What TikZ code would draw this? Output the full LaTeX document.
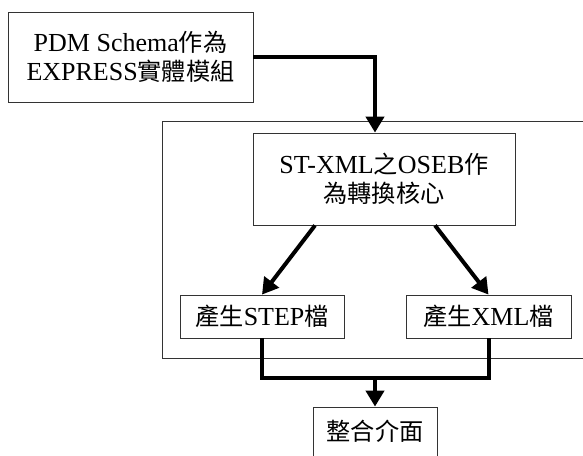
\documentclass[tikz,border=0pt]{standalone}
\usepackage{fontspec}
\setmainfont{Liberation Serif}
\newfontfamily\cjk[Scale=0.93]{Noto Sans CJK TC}
\newcommand{\zhtext}[1]{{\cjk #1}}
\usetikzlibrary{arrows.meta}

\begin{document}
\begin{tikzpicture}[x=1pt, y=-1pt,
	box/.style={draw=black!80, line width=0.8pt, align=center, inner sep=0pt,
		font=\fontsize{26}{29}\selectfont},
	flow/.style={line width=4pt, -{Triangle[length=16pt,width=18pt]}},
	mergeline/.style={line width=4pt}]
	\useasboundingbox (0,0) rectangle (583,455);
	\clip (0,0) rectangle (583,455);
	% outer frame round the converter
	\draw [black!80, line width=0.8pt] (162,121) rectangle (620,358);
	% boxes
	\node[box, minimum width=245, minimum height=90] (pdm) at (130.5,57) {PDM Schema\zhtext{作為}\\EXPRESS\zhtext{實體模組}};
	\node[box, minimum width=262, minimum height=92] (core) at (384,179) {ST-XML\zhtext{之}OSEB\zhtext{作}\\\zhtext{為轉換核心}};
	\node[box, minimum width=164, minimum height=43] (step) at (262,316.5) {\zhtext{產生}STEP\zhtext{檔}};
	\node[box, minimum width=165, minimum height=43] (xml) at (488.5,316.5) {\zhtext{產生}XML\zhtext{檔}};
	\node[box, minimum width=124, minimum height=49] (ui) at (375,431.5) {\zhtext{整合介面}};
	\coordinate (merge) at (375,378);
	% arrows
	\draw [flow] (pdm.east) -| ([xshift=-9pt]core.north);
	\draw [flow] ([xshift=-69pt]core.south) -- (step.north);
	\draw [flow] ([xshift=51pt]core.south) -- (xml.north);
	\draw [mergeline] (step.south) |- (merge) -| (xml.south);
	\draw [flow] (merge) -- (ui.north);
\end{tikzpicture}
\end{document}
